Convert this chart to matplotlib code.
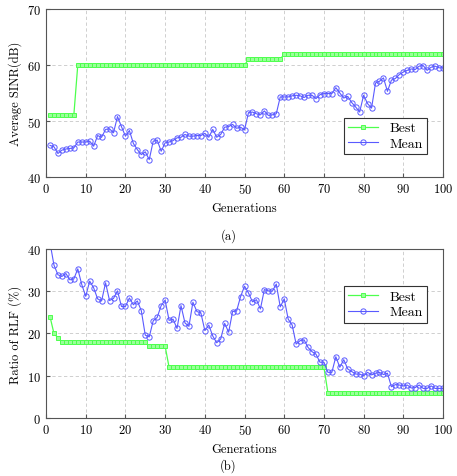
import numpy as np
import matplotlib
matplotlib.use('Agg')
import matplotlib.pyplot as plt

plt.rcParams['font.family'] = 'cmr10'
plt.rcParams['mathtext.fontset'] = 'cm'
plt.rcParams['axes.formatter.use_mathtext'] = True

gen = np.arange(1, 101)

# (a) Average SINR
sinr_best = [51]*7 + [60]*43 + [61]*9 + [62]*41
sinr_mean = [45.65, 45.4, 44.2, 44.8, 45.0, 45.1, 45.2, 46.25, 46.25, 46.25,
             46.4, 45.5, 47.4, 47.1, 48.5, 48.6, 47.9, 50.8, 49.0, 47.3,
             48.3, 46.0, 44.9, 44.0, 44.5, 43.1, 46.4, 46.6, 44.6, 46.1,
             46.25, 46.5, 47.0, 47.1, 47.6, 47.3, 47.3, 47.4, 47.4, 47.8,
             47.1, 48.5, 47.1, 47.6, 48.9, 49.0, 49.4, 48.7, 48.9, 48.4,
             51.5, 51.6, 51.3, 51.1, 51.8, 51.0, 51.1, 51.3, 54.3, 54.3,
             54.3, 54.5, 54.6, 54.5, 54.2, 54.6, 54.6, 54.0, 54.7, 54.9,
             54.9, 54.9, 55.95, 55.0, 54.1, 54.4, 53.3, 52.5, 51.6, 54.6,
             53.1, 52.3, 56.8, 57.1, 57.7, 55.3, 57.3, 57.6, 58.3, 58.75,
             59.05, 59.3, 59.2, 59.8, 59.9, 59.05, 59.6, 59.8, 59.5, 59.5]

# (b) Ratio of RLF
rlf_best = [24, 20, 19] + [18]*22 + [17]*5 + [12]*40 + [6]*30
rlf_mean = [41.5, 36.2, 33.9, 33.5, 34.2, 32.7, 32.9, 35.3, 31.6, 28.8,
            32.4, 30.8, 28.2, 27.7, 32.0, 27.8, 28.3, 30.1, 26.4, 26.4,
            28.4, 26.8, 27.7, 25.4, 19.6, 19.2, 23.0, 23.8, 26.6, 27.9,
            23.1, 23.4, 21.2, 26.6, 22.5, 21.7, 27.4, 25.2, 24.9, 20.7,
            22.0, 19.4, 17.8, 18.7, 22.4, 20.3, 25.2, 25.3, 28.7, 31.2,
            29.6, 27.5, 28.0, 25.8, 30.4, 30.1, 30.0, 31.7, 26.3, 28.2,
            23.4, 22.0, 17.5, 18.3, 18.5, 16.7, 15.7, 15.1, 13.2, 13.2,
            10.8, 10.8, 14.5, 12.0, 13.8, 11.6, 11.0, 10.4, 10.4, 10.0,
            10.8, 10.2, 10.6, 10.8, 10.3, 10.6, 7.4, 7.9, 7.8, 7.6,
            7.8, 7.1, 7.2, 7.8, 7.0, 7.0, 7.6, 7.0, 7.0, 7.0]

green = '#4dff4d'
blue = '#5a5aff'

fig = plt.figure(figsize=(4.57, 4.77), dpi=100)
ax1 = fig.add_axes([0.1007, 0.6268, 0.8687, 0.3522])
ax2 = fig.add_axes([0.1007, 0.1216, 0.8687, 0.3543])


def draw(ax, best, mean, ylim, yticks, ylabel, legend_loc, anchor):
    ax.plot(gen, best, '-', color=green, marker='s', markersize=2.5,
            markerfacecolor='#99ff99', markeredgewidth=0.7,
            linewidth=0.9, label='Best')
    ax.plot(gen, mean, '-', color=blue, marker='o', markersize=3.8,
            markerfacecolor='none', markeredgewidth=0.7, linewidth=0.8,
            label='Mean')
    ax.set_xlim(0, 100)
    ax.set_ylim(*ylim)
    ax.set_xticks(np.arange(0, 101, 10))
    ax.set_yticks(yticks)
    ax.grid(True, linestyle=(0, (4, 3)), color='#c8c8c8', linewidth=0.6)
    ax.set_axisbelow(True)
    ax.tick_params(labelsize=9, direction='in', length=3, color='#555555')
    for s in ax.spines.values():
        s.set_color('#555555')
        s.set_linewidth(0.8)
    ax.set_xlabel('Generations', fontsize=9)
    ax.set_ylabel(ylabel, fontsize=9)
    leg = ax.legend(loc=legend_loc, bbox_to_anchor=anchor, fontsize=10,
                    fancybox=False, edgecolor='#333333', framealpha=1,
                    handlelength=2.2, borderpad=0.3, labelspacing=0.2)
    leg.get_frame().set_linewidth(0.8)


draw(ax1, sinr_best, sinr_mean, (40, 70), [40, 50, 60, 70],
     'Average SINR(dB)', 'lower right', (0.977, 0.095))
draw(ax2, rlf_best, rlf_mean, (0, 40), [0, 10, 20, 30, 40],
     'Ratio of RLF (%)', 'upper right', (0.977, 0.822))

fig.text(0.5, 1 - 236/477, '(a)', ha='center', va='center', fontsize=9)
fig.text(0.5, 1 - 466/477, '(b)', ha='center', va='center', fontsize=9)

fig.savefig('out.png', dpi=100)
